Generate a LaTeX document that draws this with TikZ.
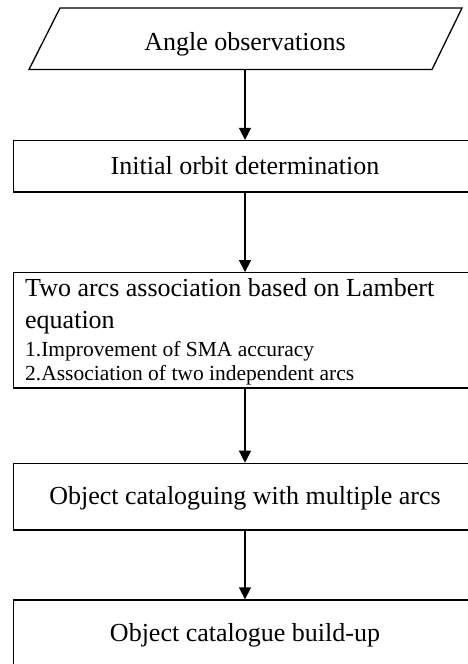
\documentclass[tikz,border=0pt]{standalone}
\usepackage{fontspec}
\setmainfont{Liberation Serif}
\usetikzlibrary{arrows.meta}
\begin{document}
\begin{tikzpicture}[x=1pt,y=-1pt,
  big/.style={font=\fontsize{26}{31}\selectfont},
  small/.style={font=\fontsize{21.5}{25}\selectfont},
  box/.style={draw, line width=1.3pt, minimum width=462.6pt, inner sep=0pt, big, text height=18pt, text depth=2.6pt},
  flow/.style={-{Triangle[width=12pt,length=12pt]}, line width=1.3pt},
  linetext/.style={anchor=base west, inner sep=0pt}]
\useasboundingbox (0,0) rectangle (468,664);
\clip (0,0) rectangle (468,664);
% input parallelogram
\node[minimum width=402pt, minimum height=61.5pt, inner sep=0pt] (obs) at (245,38.7) {};
\draw[line width=1.3pt] (29,69.5) -- (60,8) -- (462,8) -- (432,69.5) -- cycle;
\node[big, anchor=base, inner sep=0pt] (obstext) at (245,50) {Angle observations};
% boxes
\node[box, minimum height=51.5pt] (iod) at (245,166.3) {Initial orbit determination};
\node[draw, line width=1.3pt, minimum width=462.6pt, minimum height=115.3pt, inner sep=0pt] (lam) at (245,330.4) {};
\node[linetext, big] (l1) at (25,296.7) {Two arcs association based on Lambert};
\node[linetext, big] (l2) at (25,328) {equation};
\node[linetext, small] (l3) at (25,356.7) {1.Improvement of SMA accuracy};
\node[linetext, small] (l4) at (25,380) {2.Association of two independent arcs};
\node[box, minimum height=66.7pt] (cat) at (245,496.7) {Object cataloguing with multiple arcs};
\node[box, minimum height=67pt] (build) at (245,633.5) {Object catalogue build-up};
% connectors
\draw[flow] (obs.south) -- (iod.north);
\draw[flow] (iod.south) -- (lam.north);
\draw[flow] (lam.south) -- (cat.north);
\draw[flow] (cat.south) -- (build.north);
\end{tikzpicture}
\end{document}
